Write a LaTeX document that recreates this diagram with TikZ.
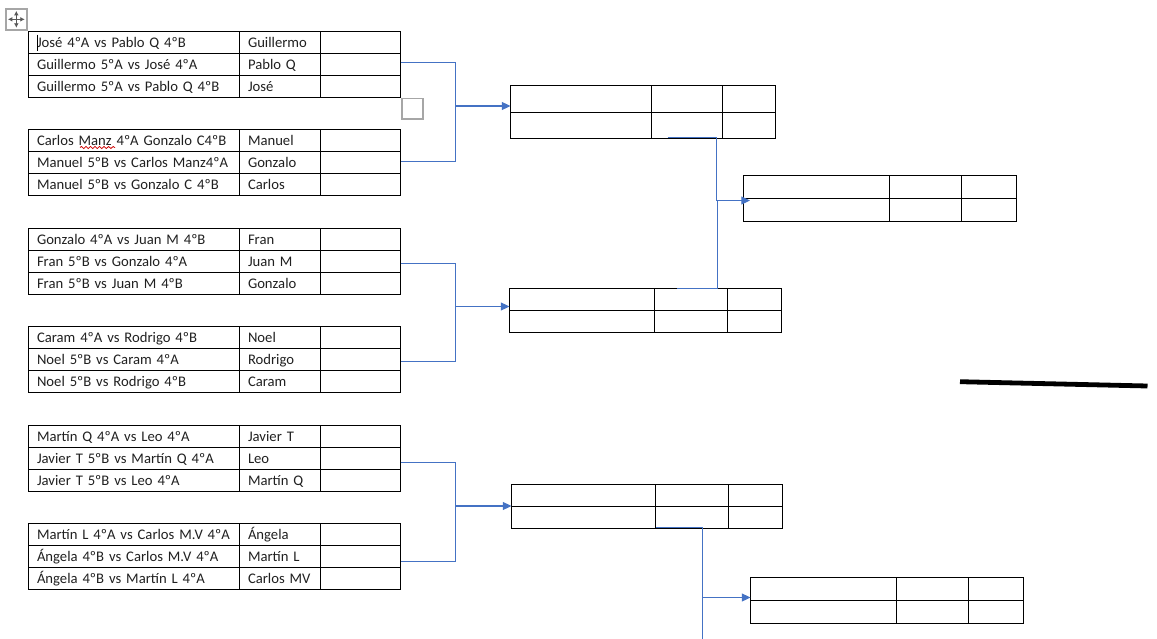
\documentclass[tikz,border=0pt]{standalone}
\usepackage{fontspec}
\setmainfont{Carlito}
\usetikzlibrary{arrows.meta,decorations.pathmorphing}
\definecolor{connblue}{HTML}{4472C4}
\definecolor{txtc}{HTML}{202020}
\newlength{\pxu}\setlength{\pxu}{0.75pt}
\tikzset{
  x=0.75pt,y=-0.75pt,
  cellbox/.style={draw=black,line width=0.8pt,anchor=north west,inner xsep=0pt,inner ysep=0pt,outer sep=0pt,minimum height=22*\pxu},
  txtcell/.style={cellbox,align=left,font=\fontsize{11}{13}\selectfont,text=txtc,text height=8.5pt,text depth=1.7pt,inner xsep=8.5*\pxu},
  conn/.style={draw=connblue,line width=0.78pt},
  connarrow/.style={conn,-{Triangle[length=6.5pt,width=6pt]}},
  uibox/.style={draw=black!35,line width=1.4pt,minimum size=15.5pt,inner sep=0pt,outer sep=0pt,anchor=north west},
  movearrow/.style={{Latex[length=3.4pt,width=3.6pt]}-{Latex[length=3.4pt,width=3.6pt]},draw=black!65,line width=0.9pt},
}
% one row of a three-column table
\newcommand{\bigrow}[4]{%
  \node[txtcell,text width=194*\pxu] (#1a) at (28.5,#2) {#3};
  \node[txtcell,text width=64*\pxu] (#1b) at (239.5,#2) {#4};
  \node[cellbox,minimum width=80*\pxu] (#1c) at (320.5,#2) {};
}
\newcommand{\bigtbl}[8]{%
  \pgfmathsetmacro{\ya}{#2}\pgfmathsetmacro{\yb}{#2+22}\pgfmathsetmacro{\yc}{#2+44}%
  \bigrow{#1r1}{\ya}{#3}{#4}%
  \bigrow{#1r2}{\yb}{#5}{#6}%
  \bigrow{#1r3}{\yc}{#7}{#8}%
}
% two-row empty table: name, x0,x1,x2,x3, y0,y1,y2
\newcommand{\smalltbl}[8]{%
  \pgfmathsetmacro{\wa}{#3-#2}\pgfmathsetmacro{\wb}{#4-#3}\pgfmathsetmacro{\wc}{#5-#4}%
  \pgfmathsetmacro{\ha}{#7-#6}\pgfmathsetmacro{\hb}{#8-#7}%
  \node[cellbox,minimum width=\wa*\pxu,minimum height=\ha*\pxu] (#1a) at (#2,#6) {};
  \node[cellbox,minimum width=\wb*\pxu,minimum height=\ha*\pxu] (#1b) at (#3,#6) {};
  \node[cellbox,minimum width=\wc*\pxu,minimum height=\ha*\pxu] (#1c) at (#4,#6) {};
  \node[cellbox,minimum width=\wa*\pxu,minimum height=\hb*\pxu] (#1d) at (#2,#7) {};
  \node[cellbox,minimum width=\wb*\pxu,minimum height=\hb*\pxu] (#1e) at (#3,#7) {};
  \node[cellbox,minimum width=\wc*\pxu,minimum height=\hb*\pxu] (#1f) at (#4,#7) {};
}
\begin{document}
\begin{tikzpicture}
\useasboundingbox (0,0) rectangle (1157,639);
\bigtbl{t1}{31.5}{José 4ºA vs Pablo Q 4ºB}{Guillermo}{Guillermo 5ºA vs José 4ºA}{Pablo Q}{Guillermo 5ºA vs Pablo Q 4ºB}{José}
\bigtbl{t2}{129.5}{Carlos Manz 4ºA Gonzalo C4ºB}{Manuel}{Manuel 5ºB vs Carlos Manz4ºA}{Gonzalo}{Manuel 5ºB vs Gonzalo C 4ºB}{Carlos}
\bigtbl{t3}{228.5}{Gonzalo 4ºA vs Juan M 4ºB}{Fran}{Fran 5ºB vs Gonzalo 4ºA}{Juan M}{Fran 5ºB vs Juan M 4ºB}{Gonzalo}
\bigtbl{t4}{326.5}{Caram 4ºA vs Rodrigo 4ºB}{Noel}{Noel 5ºB vs Caram 4ºA}{Rodrigo}{Noel 5ºB vs Rodrigo 4ºB}{Caram}
\bigtbl{t5}{425.5}{Martín Q 4ºA vs Leo 4ºA}{Javier T}{Javier T 5ºB vs Martín Q 4ºA}{Leo}{Javier T 5ºB vs Leo 4ºA}{Martín Q}
\bigtbl{t6}{523.5}{Martín L 4ºA vs Carlos M.V 4ºA}{Ángela}{Ángela 4ºB vs Carlos M.V 4ºA}{Martín L}{Ángela 4ºB vs Martín L 4ºA}{Carlos MV}

\smalltbl{sa}{510.5}{651.5}{722.5}{775.5}{85.5}{112.5}{138.5}
\smalltbl{sb}{743.5}{889.5}{961.5}{1016.5}{175.5}{198.5}{221.5}
\smalltbl{sc}{509.5}{654.5}{727.5}{781.5}{288.5}{310.5}{332.5}
\smalltbl{sd}{511.5}{655.5}{728.5}{782.5}{484.5}{506.5}{528.5}
\smalltbl{se}{750.5}{896.5}{968.5}{1023.5}{577.5}{600.5}{623.5}

% first-round brackets
\coordinate (j1a) at (455.5,62.5);  \coordinate (j1b) at (455.5,161.5);  \coordinate (j1m) at (455.5,106);
\coordinate (j2a) at (455.5,263.5); \coordinate (j2b) at (455.5,361.5);  \coordinate (j2m) at (455.5,306.5);
\coordinate (j3a) at (455.5,462.5); \coordinate (j3b) at (455.5,561.5);\coordinate (j3m) at (455.5,506);
\draw[conn] (j1a -| t1r2c.east) -- (j1a) -- (j1b) -- (j1b -| t2r2c.east);
\draw[connarrow] (j1m) -- (j1m -| saa.west);
\draw[conn] (j2a -| t3r2c.east) -- (j2a) -- (j2b) -- (j2b -| t4r2c.east);
\draw[connarrow] (j2m) -- (j2m -| sca.west);
\draw[conn] (j3a -| t5r2c.east) -- (j3a) -- (j3b) -- (j3b -| t6r2c.east);
\draw[connarrow] (j3m) -- (j3m -| sda.west);

% second-round connectors
\coordinate (k1s) at (667.5,137.5); \coordinate (k1c) at (716.5,137.5); \coordinate (k1m) at (716.5,200.5);
\coordinate (k1e) at (750,200.5);
\coordinate (k2m) at (717.5,200.5); \coordinate (k2c) at (717.5,288.5); \coordinate (k2s) at (676.5,288.5);
\draw[connarrow] (k1s) -- (k1c) -- (k1m) -- (k1e);
\draw[conn] (k2m) -- (k2c) -- (k2s);
\coordinate (l1s) at (655.5,527.5); \coordinate (l1c) at (702.5,527.5); \coordinate (l1e) at (702.5,639);
\coordinate (l1m) at (702.5,597.5);
\draw[conn] (l1s) -- (l1c) -- (l1e);
\draw[connarrow] (l1m) -- (l1m -| sea.west);

% interface marks
\node[uibox] (moveh) at (6,9) {};
\draw[movearrow] ([xshift=1.4pt]moveh.west) -- ([xshift=-1.4pt]moveh.east);
\draw[movearrow] ([yshift=-1.4pt]moveh.north) -- ([yshift=1.4pt]moveh.south);
\node[uibox] (resizeh) at (402,98.5) {};
\coordinate (caretT) at (37.5,34.5); \coordinate (caretB) at (37.5,50.5);
\draw[black,line width=0.6pt] (caretT) -- (caretB);
\coordinate (sqS) at (80,147.5); \coordinate (sqE) at (115,147.5);
\draw[red!80!black,line width=0.55pt,decorate,decoration={snake,amplitude=0.8pt,segment length=3.4pt}] (sqS) -- (sqE);
\coordinate (strokeS) at (960,381.7); \coordinate (strokeE) at (1147.5,386);
\draw[black,line width=3.6pt] (strokeS) -- (strokeE);
\end{tikzpicture}
\end{document}
